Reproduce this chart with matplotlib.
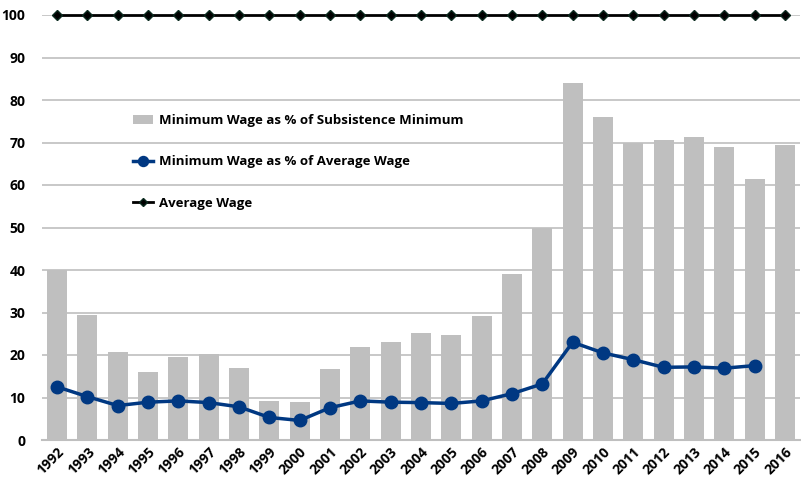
import matplotlib as mpl
mpl.use('Agg')
import matplotlib.pyplot as plt
import numpy as np

plt.rcParams['font.family'] = ['Open Sans', 'DejaVu Sans']

years = [str(y) for y in range(1992, 2017)]
subsistence_pct = [40.0, 29.5, 20.8, 16.1, 19.6, 20.2, 16.9, 9.2, 8.9, 16.6,
                   22.0, 23.1, 25.2, 24.6, 29.2, 39.1, 50.0, 84.1, 76.0, 69.9,
                   70.7, 71.2, 68.9, 61.4, 69.4]
avg_wage_pct = [12.5, 10.2, 8.1, 8.9, 9.2, 8.8, 7.8, 5.3, 4.6, 7.6,
                9.2, 8.9, 8.8, 8.6, 9.2, 10.9, 13.2, 23.0, 20.5, 18.9,
                17.1, 17.2, 16.9, 17.5]
average_wage = [100] * len(years)

GREY = '#bfbfbf'
NAVY = '#003882'

fig = plt.figure(figsize=(8.01, 4.82), dpi=100)
ax = fig.add_axes([42 / 801, 1 - 440 / 482, 758 / 801, 425 / 482])

x = np.arange(len(years))
bars = ax.bar(x, subsistence_pct, width=0.66, color=GREY, zorder=2,
              label='Minimum Wage as % of Subsistence Minimum')
ln_min, = ax.plot(x[:len(avg_wage_pct)], avg_wage_pct, color=NAVY, lw=2.5,
                  marker='o', ms=9, zorder=3,
                  label='Minimum Wage as % of Average Wage')
ln_avg, = ax.plot(x, average_wage, color='black', lw=2, marker='D', ms=5.5,
                  mfc='black', mec='#0b2b1f', zorder=4, clip_on=False,
                  label='Average Wage')

ax.set_xlim(-0.5, len(years) - 0.5)
ax.set_ylim(0, 100)
ax.set_yticks(range(0, 101, 10))
ax.yaxis.grid(True, color=GREY, lw=1.2, zorder=0)
ax.set_axisbelow(True)
for s in ['top', 'right', 'left']:
    ax.spines[s].set_visible(False)
ax.spines['bottom'].set_color(GREY)
ax.spines['bottom'].set_linewidth(1.5)
ax.tick_params(axis='both', length=0)
ax.tick_params(axis='y', pad=12)
ax.set_xticks(x)
ax.set_xticklabels(years, rotation=45, ha='right', rotation_mode='anchor')
for t in ax.get_yticklabels():
    t.set_fontsize(10)
    t.set_fontweight('bold')
for t in ax.get_xticklabels():
    t.set_fontsize(10)
    t.set_fontweight('bold')

ax.legend(handles=[bars, ln_min, ln_avg],
          loc='upper left', bbox_to_anchor=(0.105, 0.795), frameon=False,
          labelspacing=2.15, handlelength=1.5, handletextpad=0.4,
          markerscale=0.8, prop={'weight': 'bold', 'size': 9.5})

fig.savefig('out.png', dpi=100)
